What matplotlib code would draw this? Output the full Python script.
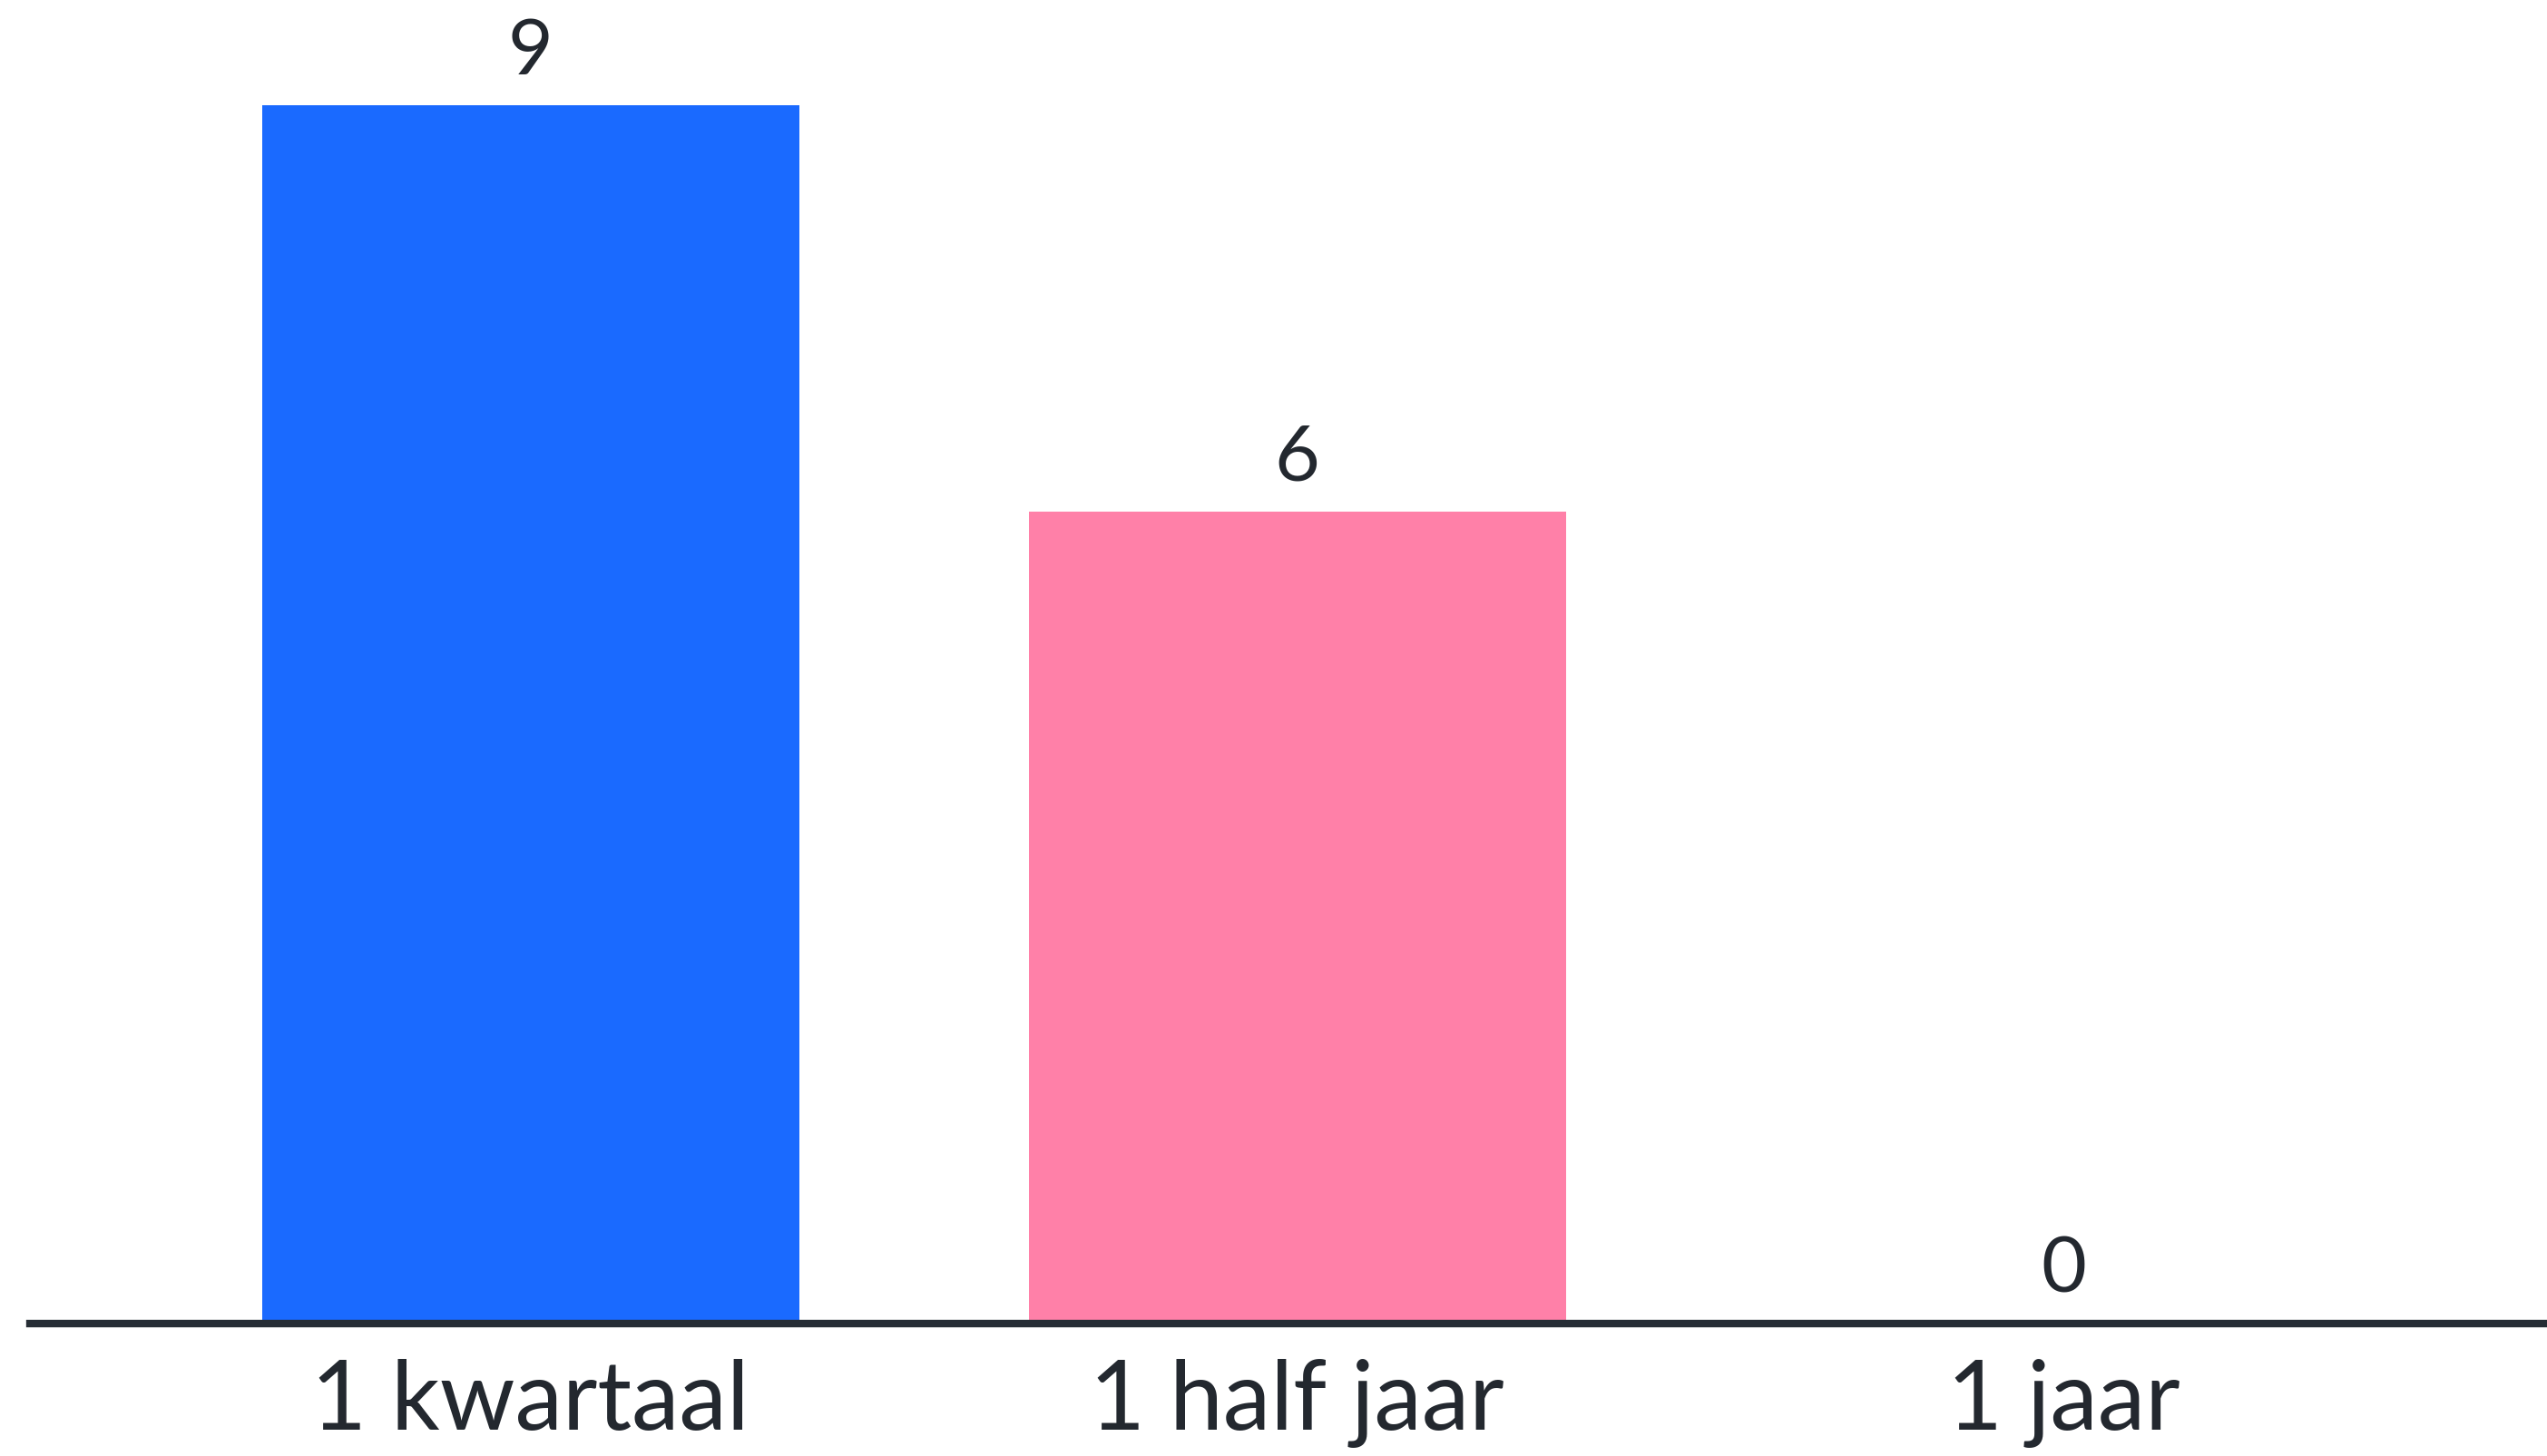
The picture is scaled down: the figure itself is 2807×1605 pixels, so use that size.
import matplotlib
matplotlib.use("Agg")
import matplotlib.pyplot as plt

categories = ["1 kwartaal", "1 half jaar", "1 jaar"]
values = [9, 6, 0]
colors = ["#1a6aff", "#ff80a8", "#ff80a8"]

TEXT = "#23282f"

plt.rcParams["font.family"] = ["Lato", "DejaVu Sans"]

fig = plt.figure(figsize=(28.07, 16.05), dpi=100)
fig.patch.set_facecolor("white")
ax = fig.add_axes([0.0118, 0.091, 0.9882, 0.909])

x = list(range(len(categories)))
bars = ax.bar(x, values, width=0.70, color=colors, zorder=2)
for xi, v in zip(x, values):
    ax.annotate(str(v), (xi, v), xytext=(0, 25), textcoords="offset points",
                ha="center", va="baseline", fontsize=62, color=TEXT)

ax.set_xlim(-0.653, 2.63)
ax.set_ylim(0, 9.78)
ax.set_xticks(x)
ax.set_xticklabels(categories, fontsize=76, color=TEXT)
ax.tick_params(axis="x", length=0, pad=28)
ax.set_yticks([])
for s in ["top", "right", "left"]:
    ax.spines[s].set_visible(False)
ax.spines["bottom"].set_color("#262d35")
ax.spines["bottom"].set_linewidth(6)
ax.spines["bottom"].set_zorder(3)

fig.savefig("out.png", dpi=100, facecolor="white")
